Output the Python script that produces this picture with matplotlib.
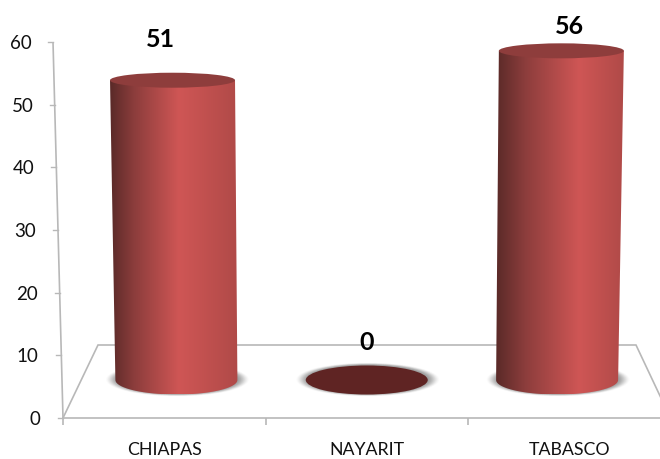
import numpy as np
import matplotlib
matplotlib.use("Agg")
import matplotlib.pyplot as plt
from matplotlib.colors import LinearSegmentedColormap
from matplotlib.patches import Ellipse, PathPatch
from matplotlib.path import Path

categories = ["CHIAPAS", "NAYARIT", "TABASCO"]
values = [51, 0, 56]
yticks = [0, 10, 20, 30, 40, 50, 60]

W, H = 660, 459
plt.rcParams["font.family"] = ["Lato", "DejaVu Sans"]
fig = plt.figure(figsize=(W / 100, H / 100), dpi=100, facecolor="white")
ax = fig.add_axes([63 / W, (H - 418) / H, (W - 63) / W, (418 - 42) / H])
PX, PY = 1 / 202.5, 60 / 376
ax.set_xlim(-0.5, -0.5 + (W - 63) * PX)
ax.set_ylim(0, 60)
for s in ["top", "right", "left"]:
    ax.spines[s].set_visible(False)
GRID = "#b8b8b8"
ax.spines["bottom"].set_color(GRID)
ax.spines["bottom"].set_linewidth(1.2)

# axes ticks and labels
ax.set_yticks(yticks)
ax.set_yticklabels([str(t) for t in yticks], fontsize=13.5, color="#111111")
ax.tick_params(axis="y", length=0)
for t, v in zip(ax.yaxis.get_major_ticks(), yticks):
    t._apply_params(pad=16.5 + v * 0.095)
ax.set_xticks(range(len(categories)))
ax.set_xticklabels(categories, fontsize=12.8, color="#111111")
ax.tick_params(axis="x", which="major", length=0, pad=17.5)
ax.set_xticks([-0.5, 0.5, 1.5], minor=True)
ax.tick_params(axis="x", which="minor", length=5, color=GRID, width=1.2)

# slanted value axis and its ticks
def ax_x(v):
    return -0.5 - v / 6 * PX

ax.plot([ax_x(0), ax_x(60)], [0, 60], color=GRID, lw=1.2, clip_on=False, solid_capstyle="butt")
for v in yticks:
    ax.plot([ax_x(v) - 5 * PX, ax_x(v)], [v, v], color=GRID, lw=1.0, clip_on=False)

# floor
xb0, xb1 = -0.5 + 35 * PX, -0.5 + 573 * PX
yb = 73 * PY
ax.plot([-0.5, xb0, xb1, xb1 + 25 * PX], [0, yb, yb, yb - 53 * PY],
        color=GRID, lw=1.2, clip_on=False, solid_joinstyle="miter")

# cylinders
cmap_base = ["#5a2a28", "#8c3d3c", "#cf5655", "#b04a48"]
highlights = [0.54, 0.6, 0.65]
BASE_Y = 38 * PY
SCALE = 0.938
base_shrink = 0.94
hw_base = 61 * PX
hh_base = 14.5 * PY
hw_top = 62.5 * PX
hh_top = 7.5 * PY

theta = np.linspace(0, np.pi, 60)
label_off = [(-4, 33), (0, 23), (0, 17)]

for i, (cat, v) in enumerate(zip(categories, values)):
    xb = 1 + (i - 1) * base_shrink
    # shadow halo
    for k, a in zip(np.linspace(1.17, 1.0, 12), np.linspace(0.03, 0.22, 12)):
        ax.add_patch(Ellipse((xb + 1 * PX, BASE_Y + 0.5 * PY), 2 * hw_base * k, 2 * hh_base * (1 + (k - 1) * 0.9),
                             fc="#8a8a8a", ec="none", alpha=a, zorder=2))
    if v == 0:
        ax.add_patch(Ellipse((xb, BASE_Y), 2 * hw_base, 2 * hh_base, fc="#5f2423", ec="none", zorder=3))
    else:
        yt = BASE_Y + v * SCALE
        xt = 1 + (xb - 1) * (1 + 0.0004 * v)
        lower = np.column_stack([xb - hw_base * np.cos(theta), BASE_Y - hh_base * np.sin(theta)])
        upper = np.column_stack([xt + hw_top * np.cos(theta), yt + hh_top * 0 * np.sin(theta)])
        poly = np.vstack([lower, upper, lower[:1]])
        path = Path(poly)
        h = highlights[i]
        cmap = LinearSegmentedColormap.from_list("c", [(0, cmap_base[0]), (h * 0.35, cmap_base[1]),
                                                       (h, cmap_base[2]), (1, cmap_base[3])])
        grad = np.linspace(0, 1, 256).reshape(1, -1)
        x0, x1 = min(xb - hw_base, xt - hw_top), max(xb + hw_base, xt + hw_top)
        im = ax.imshow(grad, cmap=cmap, extent=[x0, x1, BASE_Y - hh_base, yt + hh_top],
                       aspect="auto", zorder=3, interpolation="bilinear")
        patch = PathPatch(path, transform=ax.transData, fc="none", ec="none")
        ax.add_patch(patch)
        im.set_clip_path(patch)
        ax.add_patch(Ellipse((xt, yt), 2 * hw_top, 2 * hh_top, fc="#8e3d3c", ec="none", zorder=4))
    dx, dy = label_off[i]
    top_y = BASE_Y + v * SCALE + (hh_top if v else hh_base)
    ax.text(1 + (i - 1) + dx * PX, top_y + dy * PY, str(v), ha="center", va="center",
            fontsize=18, fontweight="bold", color="#000000", zorder=6, clip_on=False)

ax.set_xlim(-0.5, -0.5 + (W - 63) * PX)
ax.set_ylim(0, 60)
fig.savefig("out.png", dpi=100)
